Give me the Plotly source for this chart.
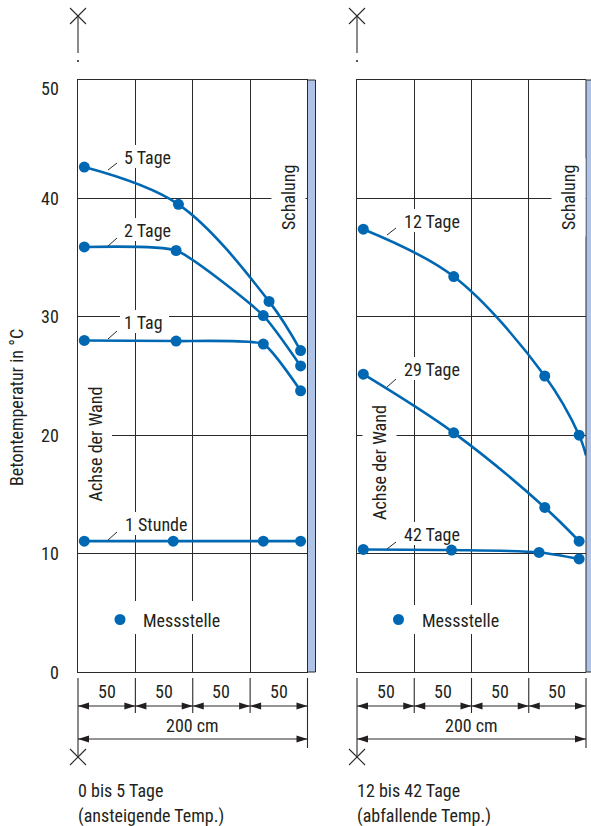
import plotly.graph_objects as go

# ---------------------------------------------------------------- data
# distance of the measuring points from the wall axis (cm) and concrete temperature (°C)
# heating phase (left panel)
h1_x = [5.5, 83.0, 161.5, 194.0]
h1_t = [11.05, 11.05, 11.05, 11.05]
d1_x = [5.5, 85.5, 161.5, 194.0]
d1_t = [28.0, 27.95, 27.7, 23.75]
d2_x = [5.5, 85.5, 161.5, 194.0]
d2_t = [35.9, 35.6, 30.1, 25.85]
d5_x = [5.5, 87.5, 166.5, 194.0]
d5_t = [42.65, 39.5, 31.3, 27.15]

# cooling phase (right panel)
d12_x = [5.5, 84.5, 164.0, 194.0]
d12_t = [37.4, 33.4, 25.0, 20.0]
d12_end = (200.0, 18.3)          # curve continues to the formwork face
d29_x = [5.5, 84.5, 164.0, 194.0]
d29_t = [25.15, 20.2, 13.9, 11.05]
d42_x = [5.5, 82.5, 159.0, 194.0]
d42_t = [10.35, 10.3, 10.1, 9.55]

# (label, x values, temperatures, spline smoothing)
left_series = [("1 Stunde", h1_x, h1_t, 1.0), ("1 Tag", d1_x, d1_t, 0.45),
               ("2 Tage", d2_x, d2_t, 0.5), ("5 Tage", d5_x, d5_t, 1.0)]
right_series = [("12 Tage", d12_x + [d12_end[0]], d12_t + [d12_end[1]], 1.0),
                ("29 Tage", d29_x, d29_t, 1.0), ("42 Tage", d42_x, d42_t, 0.8)]
right_points = [d12_x, d12_t, d29_x, d29_t, d42_x, d42_t]

y_ticks = [0, 10, 20, 30, 40, 50]
x_grid = [50, 100, 150]
dim_labels = ["50", "50", "50", "50"]
dim_total = "200 cm"

# ---------------------------------------------------------------- styling
W, H = 591, 826
BLUE = "#0068b2"
INK = "#231f20"
LINE = "#2a2a2a"
BAR = "#aec3e5"
FONT = "Liberation Sans Narrow, Roboto Condensed, DejaVu Sans Condensed, Arial Narrow, sans-serif"
FS = 18

PX_L = (78.0, 307.5)     # left panel plot edges (px)
PX_R = (357.0, 586.0)    # right panel plot edges (px)
PY = (80.0, 672.0)       # top / bottom of both panels (px)


def fx(px):
    return px / W


def fy(py):
    return 1 - py / H


fig = go.Figure()

# curves through the measuring points
for name, xs, ts, sm in left_series:
    fig.add_trace(go.Scatter(x=xs, y=ts, mode="lines+markers", xaxis="x", yaxis="y",
                             line=dict(color=BLUE, width=2.6, shape="spline", smoothing=sm),
                             marker=dict(color=BLUE, size=11), hoverinfo="skip"))
for name, xs, ts, sm in right_series:
    fig.add_trace(go.Scatter(x=xs, y=ts, mode="lines", xaxis="x2", yaxis="y2",
                             line=dict(color=BLUE, width=2.6, shape="spline", smoothing=sm),
                             hoverinfo="skip"))
for i in range(0, len(right_points), 2):
    fig.add_trace(go.Scatter(x=right_points[i], y=right_points[i + 1], mode="markers",
                             xaxis="x2", yaxis="y2", marker=dict(color=BLUE, size=11),
                             hoverinfo="skip"))

axis_common = dict(range=[0, 200], tickvals=x_grid, showticklabels=False, ticks="",
                   showgrid=True, gridcolor=LINE, gridwidth=1, zeroline=False,
                   showline=True, linecolor=LINE, linewidth=1.3, mirror=True, fixedrange=True)
yaxis_common = dict(range=[0, 50], tickvals=y_ticks, showticklabels=False, ticks="",
                    showgrid=True, gridcolor=LINE, gridwidth=1, zeroline=False,
                    showline=True, linecolor=LINE, linewidth=1.3, mirror=False,
                    domain=[fy(PY[1]), fy(PY[0])], fixedrange=True)

fig.update_layout(
    width=W, height=H, margin=dict(l=0, r=0, t=0, b=0),
    paper_bgcolor="white", plot_bgcolor="white", showlegend=False,
    font=dict(family=FONT, size=FS, color=INK),
    xaxis=dict(domain=[fx(PX_L[0]), fx(PX_L[1])], anchor="y", **axis_common),
    xaxis2=dict(domain=[fx(PX_R[0]), fx(PX_R[1])], anchor="y2", **axis_common),
    yaxis=dict(anchor="x", **yaxis_common),
    yaxis2=dict(anchor="x2", **yaxis_common),
)

shapes = []
ann = []


def seg(x0, y0, x1, y1, w=1.2, color=LINE):
    shapes.append(dict(type="line", xref="paper", yref="paper", x0=fx(x0), y0=fy(y0),
                       x1=fx(x1), y1=fy(y1), line=dict(color=color, width=w), layer="above"))


def head(x, y, direction):
    # filled arrow head, tip at (x, y)
    d = 11 * direction
    path = (f"M {fx(x)},{fy(y)} L {fx(x - d)},{fy(y - 3.6)} "
            f"L {fx(x - d)},{fy(y + 3.6)} Z")
    shapes.append(dict(type="path", xref="paper", yref="paper", path=path,
                       fillcolor=INK, line=dict(width=0), layer="above"))


def cross(x, y, r=8):
    seg(x - r, y - r, x + r, y + r, 1.1)
    seg(x - r, y + r, x + r, y - r, 1.1)


def text(x, y, s, anchor="left", angle=0, pad=2, bg=None, size=FS):
    ann.append(dict(x=fx(x), y=fy(y), xref="paper", yref="paper", text=s, showarrow=False,
                    xanchor=anchor, yanchor="middle", textangle=angle,
                    bgcolor=bg, borderpad=pad, font=dict(size=size, color=INK)))


for (x0, x1), title in [(PX_L, ["0 bis 5 Tage", "(ansteigende Temp.)"]),
                        (PX_R, ["12 bis 42 Tage", "(abfallende Temp.)"])]:
    # formwork strip
    shapes.append(dict(type="rect", xref="paper", yref="paper", x0=fx(x1), x1=fx(x1 + 8),
                       y0=fy(PY[1]), y1=fy(PY[0]), fillcolor=BAR,
                       line=dict(color=LINE, width=1), layer="above"))
    # wall axis marker above the panel
    cross(x0, 16)
    seg(x0, 16, x0, 53, 1.1)
    seg(x0, 60, x0, 62, 1.6)
    # dimension lines
    cross(x0, 757)
    seg(x0, 678, x0, 757, 1.1)
    seg(x1, 678, x1, 748, 1.1)
    step = (x1 - x0) / 4
    for k in range(1, 4):
        seg(x0 + k * step, 678, x0 + k * step, 713, 1.1)
    for k in range(4):
        a, b = x0 + k * step, x0 + (k + 1) * step
        seg(a, 706, b, 706, 1.1)
        head(a, 706, -1)
        head(b, 706, 1)
        text((a + b) / 2, 691, dim_labels[k], anchor="center")
    seg(x0, 739, x1, 739, 1.1)
    head(x0, 739, -1)
    head(x1, 739, 1)
    text((x0 + x1) / 2, 725, dim_total, anchor="center")
    text(x0 - 3, 790, title[0])
    text(x0 - 3, 816, title[1])

# legends
shapes.append(dict(type="rect", xref="paper", yref="paper", x0=fx(104), x1=fx(226),
                   y0=fy(634), y1=fy(601), fillcolor="white", line=dict(width=0), layer="above"))
shapes.append(dict(type="rect", xref="paper", yref="paper", x0=fx(383), x1=fx(500),
                   y0=fy(634), y1=fy(605), fillcolor="white", line=dict(width=0), layer="above"))
for cx, tx in [(120, 140), (398.5, 419)]:
    shapes.append(dict(type="circle", xref="paper", yref="paper", x0=fx(cx - 5.5),
                       x1=fx(cx + 5.5), y0=fy(625), y1=fy(614), fillcolor=BLUE,
                       line=dict(width=0), layer="above"))
    text(tx, 620, "Messstelle")

# curve labels with short leader lines; a white patch between grid and curves
# keeps the grid from running through the label text
labels = [("5 Tage", 123, 157, 52, (108, 170, 117, 163), "L"),
          ("2 Tage", 123, 230, 52, (108, 246, 117, 238), "L"),
          ("1 Tag", 123, 322, 46, (108, 339, 117, 331), "L"),
          ("1 Stunde", 124, 524, 68, (108, 540, 117, 532), "L"),
          ("12 Tage", 403, 221, 60, (387, 235, 396, 228), "R"),
          ("29 Tage", 403, 369, 60, (387, 387, 396, 379), "R"),
          ("42 Tage", 403, 534, 60, (387, 549, 396, 542), "R")]
for s, x, y, w, (a0, b0, a1, b1), side in labels:
    (p0, p1), xr, yr = (PX_L, "x", "y") if side == "L" else (PX_R, "x2", "y2")
    to_x = lambda px: (px - p0) / (p1 - p0) * 200
    to_y = lambda py: (PY[1] - py) / (PY[1] - PY[0]) * 50
    shapes.append(dict(type="rect", xref=xr, yref=yr, x0=to_x(x - 3), x1=to_x(x + w),
                       y0=to_y(y + 11), y1=to_y(y - 12), fillcolor="white",
                       line=dict(width=0), layer="between"))
    text(x, y, s, pad=0)
    seg(a0, b0, a1, b1, 1.0)

# side captions
text(95.5, 444, "Achse der Wand", anchor="center", angle=-90, bg="white", pad=6)
text(379, 463, "Achse der Wand", anchor="center", angle=-90, bg="white", pad=6)
text(288, 198, "Schalung", anchor="center", angle=-90, bg="white", pad=6)
text(568, 198, "Schalung", anchor="center", angle=-90, bg="white", pad=6)

# y tick labels and title
for v in y_ticks:
    ann.append(dict(x=fx(61), y=v, xref="paper", yref="y", text=str(v), showarrow=False,
                    xanchor="right", yanchor="middle", yshift=-8 if v == 50 else 0,
                    font=dict(size=FS, color=INK)))
text(16, 408, "Betontemperatur in °C", anchor="center", angle=-90)

fig.update_layout(shapes=shapes, annotations=ann)
fig.write_html("out.html")
